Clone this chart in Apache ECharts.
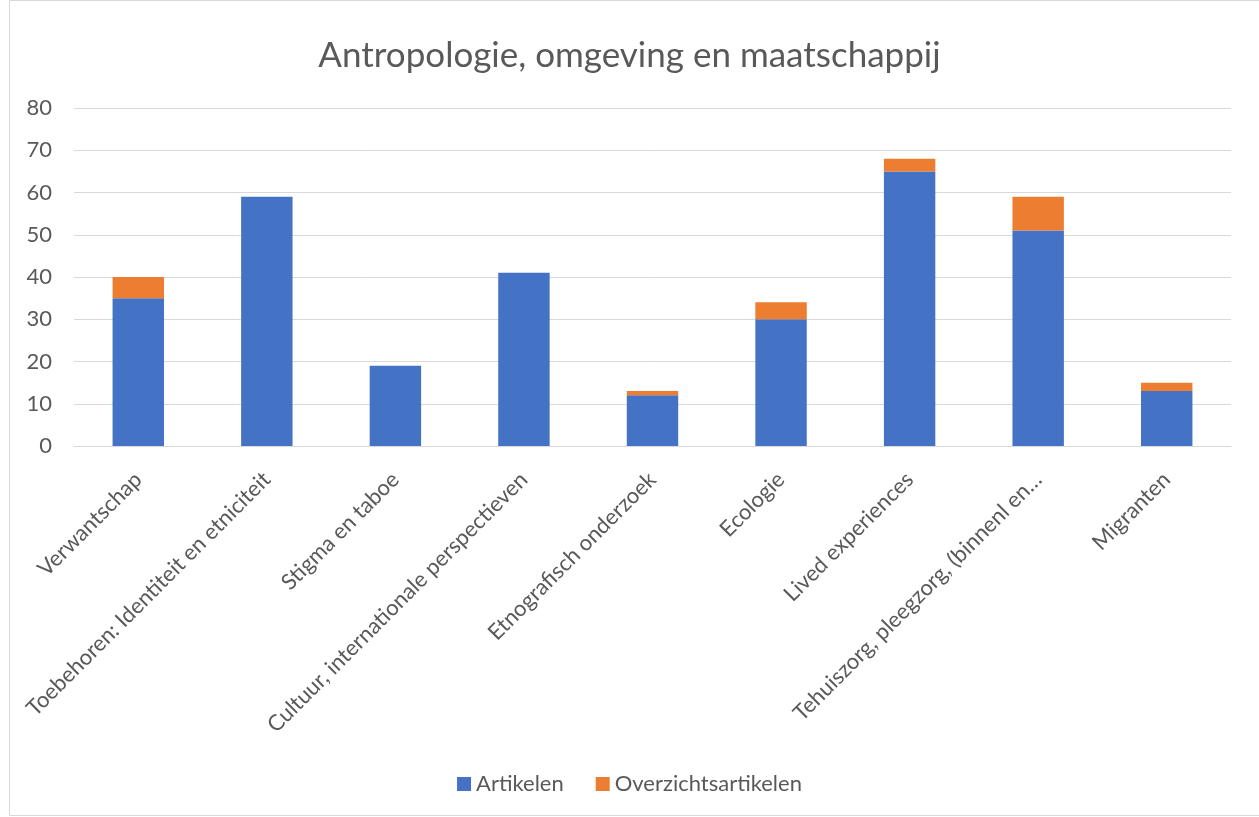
<!DOCTYPE html>
<html>
<head>
<meta charset="utf-8">
<script src="https://cdn.jsdelivr.net/npm/echarts@6/dist/echarts.min.js"></script>
<style>
  html, body { margin: 0; padding: 0; background: #fff; }
  #chart { width: 1259px; height: 817px; }
</style>
</head>
<body>
<div id="chart"></div>
<script>
var categories = [
    'Verwantschap',
    'Toebehoren: Identiteit en etniciteit',
    'Stigma en taboe',
    'Cultuur, internationale perspectieven',
    'Etnografisch onderzoek',
    'Ecologie',
    'Lived experiences',
    'Tehuiszorg, pleegzorg, (binnenl en…',
    'Migranten'
];
var artikelen = [35, 59, 19, 41, 12, 30, 65, 51, 13];
var overzichtsartikelen = [5, 0, 0, 0, 1, 4, 3, 8, 2];
var yTicks = { min: 0, max: 80, step: 10 };

var font = 'Lato, "Open Sans", sans-serif';
var myChart = echarts.init(document.getElementById('chart'));
var option = {
    textStyle: { fontFamily: font },
    title: {
        text: 'Antropologie, omgeving en maatschappij',
        left: 'center',
        top: 33,
        textStyle: { fontSize: 35, fontWeight: 'normal', color: '#595959', fontFamily: font }
    },
    graphic: [{
        type: 'rect',
        shape: { x: 9.5, y: 0.5, width: 1260, height: 815 },
        style: { fill: 'none', stroke: '#d9d9d9', lineWidth: 1 },
        silent: true
    }],
    legend: {
        bottom: 17,
        left: 'center',
        itemWidth: 14,
        itemHeight: 14,
        itemGap: 32,
        icon: 'rect',
        textStyle: { fontSize: 22, color: '#595959', fontFamily: font },
        data: ['Artikelen', 'Overzichtsartikelen']
    },
    grid: { left: 74, right: 28, top: 108, bottom: 371 },
    xAxis: {
        type: 'category',
        data: categories,
        axisTick: { show: false },
        axisLine: { lineStyle: { color: '#d9d9d9', width: 1 } },
        axisLabel: {
            interval: 0,
            rotate: 45,
            fontSize: 22,
            color: '#595959',
            margin: 30,
            fontFamily: font
        }
    },
    yAxis: {
        type: 'value',
        min: yTicks.min,
        max: yTicks.max,
        interval: yTicks.step,
        axisLine: { show: false },
        axisTick: { show: false },
        axisLabel: { fontSize: 22, color: '#595959', margin: 22, fontFamily: font },
        splitLine: { lineStyle: { color: '#d9d9d9', width: 1 } }
    },
    series: [
        {
            name: 'Artikelen',
            type: 'bar',
            stack: 'totaal',
            barWidth: '40%',
            itemStyle: { color: '#4472c4' },
            data: artikelen
        },
        {
            name: 'Overzichtsartikelen',
            type: 'bar',
            stack: 'totaal',
            barWidth: '40%',
            itemStyle: { color: '#ed7d31' },
            data: overzichtsartikelen
        }
    ]
};
myChart.setOption(option);
</script>
</body>
</html>
